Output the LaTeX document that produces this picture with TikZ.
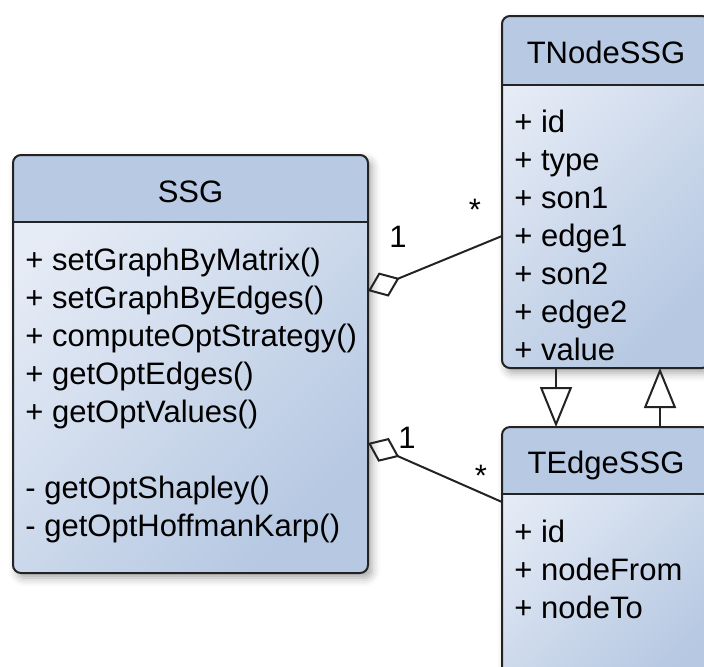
\documentclass[tikz,border=0pt]{standalone}
\usepackage{fontspec}
\setmainfont{Liberation Sans}
\usetikzlibrary{positioning}
\usetikzlibrary{calc}
\usetikzlibrary{arrows.meta}
\usetikzlibrary{shadows.blur}

\definecolor{headblue}{RGB}{184,201,227}
\definecolor{bodylight}{RGB}{230,236,246}
\definecolor{bodydark}{RGB}{182,200,226}
\definecolor{linegray}{RGB}{35,35,35}

\begin{document}
\begin{tikzpicture}[x=0.5pt, y=-0.5pt, font=\fontsize{15.5}{19}\selectfont,
    classbody/.style={rectangle, rounded corners=4pt, outer sep=0pt, inner sep=0pt,
        top color=bodylight, bottom color=bodydark, shading angle=45,
        blur shadow={shadow xshift=2pt, shadow yshift=-2.5pt, shadow blur radius=4pt, shadow opacity=35}},
    classframe/.style={draw=linegray, line width=1pt, rounded corners=4pt},
    members/.style={anchor=base west, align=left, inner sep=0pt},
    aggr/.style={{Diamond[open, length=17pt, width=13pt]}-, draw=linegray, line width=1pt},
    gen/.style={-{Triangle[open, length=20pt, width=16pt]}, draw=linegray, line width=1pt}]

        \clip (0,0) rectangle (704,666);

        % class boxes
        \node[classbody, minimum width=177.5pt, minimum height=209pt] (ssg) at (190.5,364) {};
        \node[classbody, minimum width=104pt, minimum height=176pt] (tnode) at (606,192) {};
        \node[classbody, minimum width=104pt, minimum height=136.5pt] (tedge) at (606,563.5) {};

        \coordinate (ssgsep) at ($(ssg.north west)+(0,67)$);
        \coordinate (tnodesep) at ($(tnode.north west)+(0,69)$);
        \coordinate (tedgesep) at ($(tedge.north west)+(0,67)$);

        % headers
        \begin{scope}
            \clip[rounded corners=4pt] (ssg.north west) rectangle (ssg.south east);
            \fill[headblue] (ssg.north west) rectangle (ssgsep -| ssg.east);
        \end{scope}
        \begin{scope}
            \clip[rounded corners=4pt] (tnode.north west) rectangle (tnode.south east);
            \fill[headblue] (tnode.north west) rectangle (tnodesep -| tnode.east);
        \end{scope}
        \begin{scope}
            \clip[rounded corners=4pt] (tedge.north west) rectangle (tedge.south east);
            \fill[headblue] (tedge.north west) rectangle (tedgesep -| tedge.east);
        \end{scope}

        \draw[classframe] (ssg.north west) rectangle (ssg.south east);
        \draw[classframe] (ssgsep) -- (ssgsep -| ssg.east);
        \draw[classframe] (tnode.north west) rectangle (tnode.south east);
        \draw[classframe] (tnodesep) -- (tnodesep -| tnode.east);
        \draw[classframe] (tedge.north west) rectangle (tedge.south east);
        \draw[classframe] (tedgesep) -- (tedgesep -| tedge.east);

        % titles and members (base = last line)
        \node[anchor=base] (ssgtitle) at ($(ssg.north)+(0,47)$) {SSG};
        \node[anchor=base] (tnodetitle) at ($(tnode.north)+(0,47)$) {TNodeSSG};
        \node[anchor=base] (tedgetitle) at ($(tedge.north)+(0,46)$) {TEdgeSSG};

        \node[members] (ssgops) at ($(ssg.north west)+(12,381)$)
            {+ setGraphByMatrix()\\+ setGraphByEdges()\\+ computeOptStrategy()\\+ getOptEdges()\\+ getOptValues()\\[19pt]- getOptShapley()\\- getOptHoffmanKarp()};
        \node[members] (tnodeattr) at ($(tnode.north west)+(12,344)$)
            {+ id\\+ type\\+ son1\\+ edge1\\+ son2\\+ edge2\\+ value};
        \node[members] (tedgeattr) at ($(tedge.north west)+(12,191)$)
            {+ id\\+ nodeFrom\\+ nodeTo};

        % associations
        \draw[aggr] ([yshift=36.5pt]ssg.east) -- ([yshift=-22pt]tnode.west);
        \draw[aggr] ([yshift=-39.5pt]ssg.east) -- ([yshift=30.75pt]tedge.west);
        \draw[gen] ([xshift=-25pt]tnode.south) -- ([xshift=-25pt]tedge.north);
        \draw[gen] ([xshift=27pt]tedge.north) -- ([xshift=27pt]tnode.south);

        \node[anchor=base] (mult1) at (398,247) {1};
        \node[anchor=base] (star1) at (475,220) {*};
        \node[anchor=base] (mult2) at (407,448) {1};
        \node[anchor=base] (star2) at (481,486) {*};
    \end{tikzpicture}
\end{document}
